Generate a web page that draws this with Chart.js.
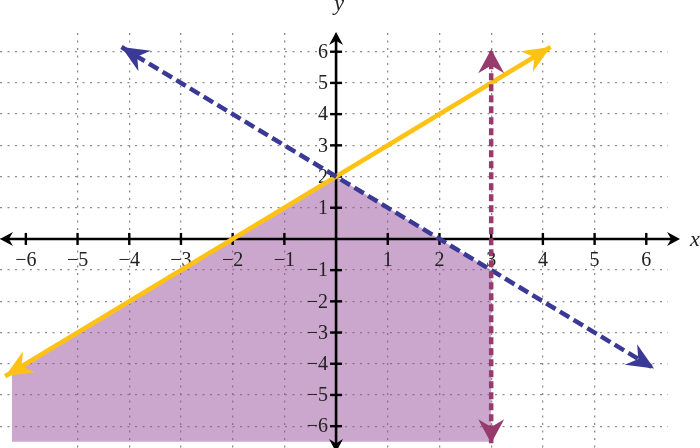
<!DOCTYPE html>
<html>
<head>
<meta charset="utf-8">
<script src="https://cdn.jsdelivr.net/npm/chart.js@4.4.0/dist/chart.umd.min.js"></script>
<style>
  html, body { margin: 0; padding: 0; background: #fff; }
  #wrap { width: 700px; height: 448px; position: relative; }
</style>
</head>
<body>
<div id="wrap"><canvas id="graph"></canvas></div>
<script>
// axis ticks and their labels
const xTicks = [-6, -5, -4, -3, -2, -1, 1, 2, 3, 4, 5, 6];
const xTickLabels = ['\u22126', '\u22125', '\u22124', '\u22123', '\u22122', '\u22121', '1', '2', '3', '4', '5', '6'];
const yTicks = [6, 5, 4, 3, 2, 1, -1, -2, -3, -4, -5, -6];
const yTickLabels = ['6', '5', '4', '3', '2', '1', '\u22121', '\u22122', '\u22123', '\u22124', '\u22125', '\u22126'];

// y = x + 2 (solid)
const yellowX = [-6.4, 4.15];
const yellowY = [-4.4, 6.15];
// y = -x + 2 (dashed)
const blueX = [-4.15, 6.15];
const blueY = [6.15, -4.15];
// x = 3 (dashed)
const redX = [3, 3];
const redY = [-6.55, 6.08];
// shaded solution region, filled down to y = -6.5
const shadeX = [-6.27, 0, 3];
const shadeY = [-4.27, 2, -1];
const shadeFloor = -6.5;

const toPoints = (xs, ys) => xs.map((x, i) => ({ x, y: ys[i] }));

function arrowHead(ctx, tip, from, len, width, color) {
  const a = Math.atan2(tip.y - from.y, tip.x - from.x);
  ctx.save();
  ctx.translate(tip.x, tip.y);
  ctx.rotate(a);
  ctx.fillStyle = color;
  ctx.beginPath();
  ctx.moveTo(0, 0);
  ctx.lineTo(-len, width / 2);
  ctx.lineTo(-len * 0.68, 0);
  ctx.lineTo(-len, -width / 2);
  ctx.closePath();
  ctx.fill();
  ctx.restore();
}

function drawAxes(chart) {
  const ctx = chart.ctx;
  const xs = chart.scales.x, ys = chart.scales.y;
  const x0 = xs.getPixelForValue(0), y0 = ys.getPixelForValue(0);
  ctx.save();
  ctx.strokeStyle = '#000';
  ctx.lineWidth = 2.6;
  // x axis
  ctx.beginPath();
  ctx.moveTo(4, y0);
  ctx.lineTo(674, y0);
  ctx.stroke();
  // y axis
  ctx.beginPath();
  ctx.moveTo(x0, 38);
  ctx.lineTo(x0, 448);
  ctx.stroke();
  arrowHead(ctx, { x: 0, y: y0 }, { x: 10, y: y0 }, 13, 14, '#000');
  arrowHead(ctx, { x: 680, y: y0 }, { x: 670, y: y0 }, 13, 14, '#000');
  arrowHead(ctx, { x: x0, y: 32 }, { x: x0, y: 42 }, 13, 14, '#000');
  arrowHead(ctx, { x: x0, y: 452 }, { x: x0, y: 442 }, 13, 14, '#000');

  ctx.lineWidth = 2.4;
  ctx.font = '20px "Liberation Serif", "DejaVu Serif", serif';
  ctx.fillStyle = '#222';
  xTicks.forEach((v, i) => {
    const px = xs.getPixelForValue(v);
    ctx.beginPath();
    ctx.moveTo(px, y0 - 6);
    ctx.lineTo(px, y0 + 6);
    ctx.stroke();
    ctx.textAlign = 'center';
    ctx.textBaseline = 'middle';
    ctx.fillText(xTickLabels[i], px, y0 + 22);
  });
  yTicks.forEach((v, i) => {
    const py = ys.getPixelForValue(v);
    ctx.beginPath();
    ctx.moveTo(x0 - 6, py);
    ctx.lineTo(x0 + 6, py);
    ctx.stroke();
    ctx.textAlign = 'right';
    ctx.textBaseline = 'middle';
    ctx.fillText(yTickLabels[i], x0 - 8, py + 1);
  });

  ctx.font = 'italic 22px "Liberation Serif", "DejaVu Serif", serif';
  ctx.textAlign = 'center';
  ctx.textBaseline = 'middle';
  ctx.fillText('y', x0 + 3, 4);
  ctx.fillText('x', 695, y0 + 1);
  ctx.restore();
}

const overlay = {
  id: 'overlay',
  afterDatasetDraw(chart, args) {
    const ds = chart.data.datasets[args.index];
    if (ds.role === 'shade') {
      drawAxes(chart);
    } else if (ds.arrow) {
      const xs = chart.scales.x, ys = chart.scales.y;
      const pts = ds.data.map(p => ({ x: xs.getPixelForValue(p.x), y: ys.getPixelForValue(p.y) }));
      const [l, w] = ds.arrow;
      arrowHead(chart.ctx, pts[0], pts[1], l, w, ds.borderColor);
      arrowHead(chart.ctx, pts[1], pts[0], l, w, ds.borderColor);
    }
  }
};

const intOnly = scale => {
  scale.ticks = scale.ticks.filter(t => Number.isInteger(t.value));
};

new Chart(document.getElementById('graph'), {
  type: 'scatter',
  data: {
    datasets: [
      {
        data: toPoints(redX, redY), showLine: true, pointRadius: 0,
        borderColor: '#973a6c', borderWidth: 4.5, borderDash: [7, 4], arrow: [24, 26]
      },
      {
        data: toPoints(blueX, blueY), showLine: true, pointRadius: 0,
        borderColor: '#3a3a96', borderWidth: 4.5, borderDash: [11, 5], arrow: [27, 24]
      },
      {
        data: toPoints(yellowX, yellowY), showLine: true, pointRadius: 0,
        borderColor: '#fec215', borderWidth: 4.5, arrow: [28, 24]
      },
      {
        role: 'shade',
        data: toPoints(shadeX, shadeY), showLine: true, pointRadius: 0,
        borderWidth: 0, borderColor: 'rgba(0,0,0,0)',
        backgroundColor: 'rgba(152, 80, 156, 0.5)',
        fill: { value: shadeFloor }
      }
    ]
  },
  options: {
    responsive: true,
    maintainAspectRatio: false,
    animation: false,
    layout: { padding: { left: 0, right: 32, top: 33, bottom: 0 } },
    plugins: { legend: { display: false }, tooltip: { enabled: false } },
    scales: {
      x: {
        type: 'linear', min: -6.5, max: 6.42,
        afterBuildTicks: intOnly,
        ticks: { display: false, stepSize: 1 },
        grid: { color: '#8c8c8c', lineWidth: 1.3, drawTicks: false },
        border: { display: false, dash: [2, 5.5] }
      },
      y: {
        type: 'linear', min: -6.7, max: 6.6,
        afterBuildTicks: intOnly,
        ticks: { display: false, stepSize: 1 },
        grid: { color: '#8c8c8c', lineWidth: 1.3, drawTicks: false },
        border: { display: false, dash: [2, 5.5] }
      }
    }
  },
  plugins: [overlay]
});
</script>
</body>
</html>
